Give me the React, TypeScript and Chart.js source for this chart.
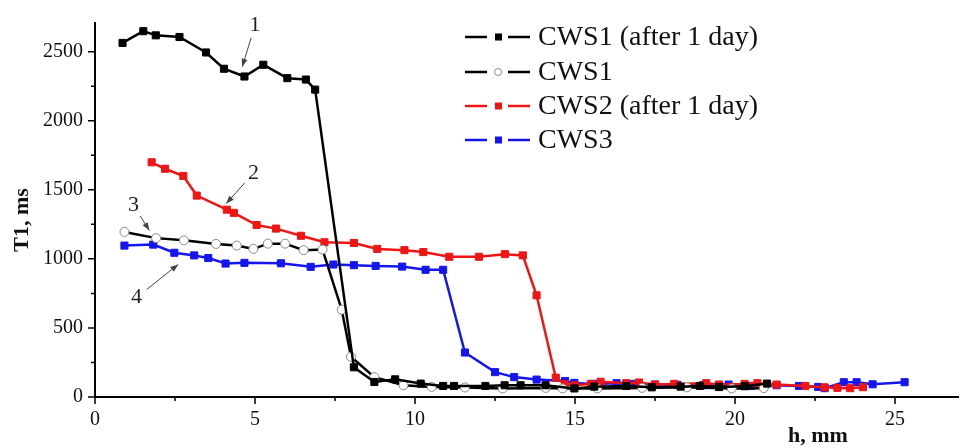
import React, { useEffect, useRef } from "react";
import { Chart, registerables } from "chart.js";

Chart.register(...registerables);

const seriesNames = ["CWS1 (after 1 day)", "CWS1", "CWS2 (after 1 day)", "CWS3"];

const cws1DayX = [0.86, 1.51, 1.9, 2.64, 3.47, 4.03, 4.67, 5.26, 6.01, 6.59, 6.88, 8.09, 8.73, 9.38, 10.18, 10.88, 11.22, 12.2, 12.8, 13.3, 14.08, 14.98, 15.6, 16.6, 17.4, 18.3, 18.9, 19.5, 20.3, 21.0];
const cws1DayY = [2563, 2648, 2618, 2606, 2494, 2376, 2320, 2405, 2308, 2298, 2225, 215, 109, 128, 97, 80, 80, 80, 85, 85, 85, 62, 75, 80, 70, 75, 80, 72, 78, 97];

const cws1X = [0.92, 1.91, 2.78, 3.78, 4.43, 4.95, 5.4, 5.94, 6.52, 7.11, 7.71, 8.0, 8.73, 9.64, 10.52, 11.56, 12.74, 14.08, 14.61, 15.7, 17.1, 18.5, 19.9, 20.9];
const cws1Y = [1195, 1150, 1134, 1108, 1096, 1072, 1110, 1110, 1063, 1067, 632, 291, 144, 85, 73, 69, 62, 66, 62, 62, 66, 70, 62, 64];

const cws2DayX = [1.77, 2.19, 2.76, 3.18, 4.12, 4.34, 5.05, 5.66, 6.44, 7.17, 8.09, 8.82, 9.67, 10.26, 11.07, 12.0, 12.81, 13.37, 13.8, 14.4, 14.69, 15.0, 15.5, 15.8, 16.6, 17.0, 17.5, 18.1, 19.1, 19.5, 20.3, 20.7, 21.3, 22.2, 22.8, 23.2, 23.6, 24.0];
const cws2DayY = [1699, 1652, 1600, 1458, 1356, 1333, 1245, 1219, 1167, 1120, 1115, 1072, 1063, 1049, 1015, 1015, 1034, 1025, 736, 140, 92, 85, 95, 110, 100, 105, 90, 95, 100, 90, 95, 100, 90, 80, 70, 66, 64, 71];

const cws3X = [0.92, 1.82, 2.48, 3.1, 3.54, 4.08, 4.67, 5.81, 6.74, 7.45, 8.09, 8.77, 9.6, 10.33, 10.88, 11.56, 12.5, 13.1, 13.8, 14.69, 14.98, 15.6, 16.3, 16.8, 17.5, 18.2, 19.0, 19.8, 20.5, 21.3, 22.0, 22.6, 22.8, 23.4, 23.8, 24.3, 25.3];
const cws3Y = [1096, 1103, 1044, 1025, 1006, 966, 971, 968, 942, 959, 954, 949, 944, 921, 921, 322, 180, 144, 126, 116, 102, 95, 100, 95, 90, 88, 85, 90, 80, 85, 80, 73, 64, 107, 107, 92, 107];

// annotation labels: text, label position (data), arrow tip (data)
const annoText = ["1", "2", "3", "4"];
const annoLabelX = [5.0, 4.95, 1.2, 1.3];
const annoLabelY = [2690, 1620, 1390, 720];
const annoTipX = [4.6, 4.1, 1.7, 2.6];
const annoTipY = [2390, 1400, 1205, 960];

const xTicks = [0, 5, 10, 15, 20, 25];
const yTicks = [0, 500, 1000, 1500, 2000, 2500];

const SERIF = "'Liberation Serif', 'Times New Roman', serif";

const zip = (xs: number[], ys: number[]) => xs.map((x, i) => ({ x, y: ys[i] }));

const overlay = {
  id: "overlay",
  afterDraw(chart: any) {
    const ctx = chart.ctx as CanvasRenderingContext2D;
    const { left, right, top, bottom } = chart.chartArea;
    const xs = chart.scales.x;
    const ys = chart.scales.y;
    ctx.save();
    // axes lines
    ctx.strokeStyle = "#000";
    ctx.lineWidth = 2;
    ctx.beginPath();
    ctx.moveTo(left, top - 2);
    ctx.lineTo(left, bottom + 1);
    ctx.moveTo(left - 1, bottom);
    ctx.lineTo(right, bottom);
    ctx.stroke();
    // ticks
    ctx.lineWidth = 1.5;
    ctx.beginPath();
    for (let v = 0; v <= 2700; v += 250) {
      const p = ys.getPixelForValue(v);
      const len = v % 500 === 0 ? 7 : 4;
      ctx.moveTo(left - len, p);
      ctx.lineTo(left, p);
    }
    for (let v = 0; v <= 27; v += 2.5) {
      const p = xs.getPixelForValue(v);
      const len = v % 5 === 0 ? 7 : 4;
      ctx.moveTo(p, bottom);
      ctx.lineTo(p, bottom + len);
    }
    ctx.stroke();
    // axis titles
    ctx.fillStyle = "#111";
    ctx.font = `bold 22px ${SERIF}`;
    ctx.textAlign = "center";
    ctx.textBaseline = "middle";
    ctx.fillText("h, mm", 818, 436);
    ctx.save();
    ctx.translate(22, 220);
    ctx.rotate(-Math.PI / 2);
    ctx.fillText("T1, ms", 0, 0);
    ctx.restore();
    // annotations
    ctx.font = `22px ${SERIF}`;
    ctx.strokeStyle = "#444";
    ctx.fillStyle = "#222";
    ctx.lineWidth = 1;
    annoText.forEach((t, i) => {
      const lx = xs.getPixelForValue(annoLabelX[i]);
      const ly = ys.getPixelForValue(annoLabelY[i]);
      const tx = xs.getPixelForValue(annoTipX[i]);
      const ty = ys.getPixelForValue(annoTipY[i]);
      ctx.fillText(t, lx, ly);
      const dx = tx - lx, dy = ty - ly;
      const d = Math.hypot(dx, dy);
      const ux = dx / d, uy = dy / d;
      const sx = lx + ux * 13, sy = ly + uy * 13;
      ctx.beginPath();
      ctx.moveTo(sx, sy);
      ctx.lineTo(tx, ty);
      ctx.stroke();
      ctx.beginPath();
      ctx.moveTo(tx, ty);
      ctx.lineTo(tx - ux * 8 - uy * 3, ty - uy * 8 + ux * 3);
      ctx.lineTo(tx - ux * 8 + uy * 3, ty - uy * 8 - ux * 3);
      ctx.closePath();
      ctx.fillStyle = "#444";
      ctx.fill();
      ctx.fillStyle = "#222";
    });
    // legend
    const rowsY = [37, 72, 106, 140];
    ctx.font = `28px ${SERIF}`;
    ctx.textAlign = "left";
    chart.data.datasets.forEach((ds: any, i: number) => {
      const y = rowsY[i];
      ctx.strokeStyle = ds.borderColor;
      ctx.lineWidth = 2.5;
      ctx.beginPath();
      ctx.moveTo(465, y);
      ctx.lineTo(487, y);
      ctx.moveTo(508, y);
      ctx.lineTo(530, y);
      ctx.stroke();
      if (ds.pointStyle === "circle") {
        ctx.fillStyle = "#fff";
        ctx.strokeStyle = ds.pointBorderColor;
        ctx.lineWidth = 1;
        ctx.beginPath();
        ctx.arc(498, y, 3.5, 0, Math.PI * 2);
        ctx.fill();
        ctx.stroke();
      } else {
        ctx.fillStyle = ds.pointBackgroundColor;
        ctx.fillRect(495, y - 3.5, 7, 7);
      }
      ctx.fillStyle = "#111";
      ctx.textBaseline = "middle";
      ctx.fillText(ds.label, 538, y + 1);
    });
    ctx.restore();
  },
};

export default function App() {
  const ref = useRef<HTMLCanvasElement>(null);
  useEffect(() => {
    if (!ref.current) return;
    const chart = new Chart(ref.current, {
      type: "line",
      data: {
        datasets: [
          {
            label: seriesNames[0],
            data: zip(cws1DayX, cws1DayY),
            borderColor: "#000",
            backgroundColor: "#000",
            pointBackgroundColor: "#000",
            pointBorderColor: "#000",
            pointStyle: "rect",
            pointRadius: 5,
            pointBorderWidth: 1,
            borderWidth: 2.5,
          },
          {
            label: seriesNames[1],
            data: zip(cws1X, cws1Y),
            borderColor: "#000",
            backgroundColor: "#fff",
            pointBackgroundColor: "#fff",
            pointBorderColor: "#888",
            pointStyle: "circle",
            pointRadius: 4.5,
            pointBorderWidth: 1,
            borderWidth: 2.5,
          },
          {
            label: seriesNames[2],
            data: zip(cws2DayX, cws2DayY),
            borderColor: "#ee1515",
            backgroundColor: "#ee1515",
            pointBackgroundColor: "#ee1515",
            pointBorderColor: "#ee1515",
            pointStyle: "rect",
            pointRadius: 5,
            pointBorderWidth: 1,
            borderWidth: 2.5,
          },
          {
            label: seriesNames[3],
            data: zip(cws3X, cws3Y),
            borderColor: "#1515ee",
            backgroundColor: "#1515ee",
            pointBackgroundColor: "#1515ee",
            pointBorderColor: "#1515ee",
            pointStyle: "rect",
            pointRadius: 5,
            pointBorderWidth: 1,
            borderWidth: 2.5,
          },
        ],
      },
      options: {
        animation: false,
        responsive: false,
        maintainAspectRatio: false,
        layout: { padding: { top: 17, right: 6, left: 0, bottom: 0 } },
        plugins: { legend: { display: false }, tooltip: { enabled: false } },
        elements: { line: { tension: 0 } },
        scales: {
          x: {
            type: "linear",
            min: 0,
            max: 27,
            grid: { display: false, drawTicks: false },
            border: { display: false },
            ticks: {
              stepSize: 5,
              padding: 11,
              color: "#111",
              font: { family: SERIF, size: 20 },
              callback: (v: any) => String(v),
            },
            afterBuildTicks: (s: any) => {
              s.ticks = xTicks.map((v) => ({ value: v }));
            },
            afterFit: (s: any) => {
              s.height = 51;
            },
          },
          y: {
            type: "linear",
            min: 0,
            max: 2700,
            grid: { display: false, drawTicks: false },
            border: { display: false },
            ticks: {
              stepSize: 500,
              padding: 12,
              color: "#111",
              font: { family: SERIF, size: 20 },
              callback: (v: any) => String(v),
            },
            afterBuildTicks: (s: any) => {
              s.ticks = yTicks.map((v) => ({ value: v }));
            },
            afterFit: (s: any) => {
              s.width = 95;
            },
          },
        },
      },
      plugins: [overlay],
    });
    return () => chart.destroy();
  }, []);
  return (
    <div style={{ position: "absolute", left: 0, top: 0, width: 965, height: 448, background: "#fff" }}>
      <canvas ref={ref} width={965} height={448} style={{ width: 965, height: 448 }} />
    </div>
  );
}
